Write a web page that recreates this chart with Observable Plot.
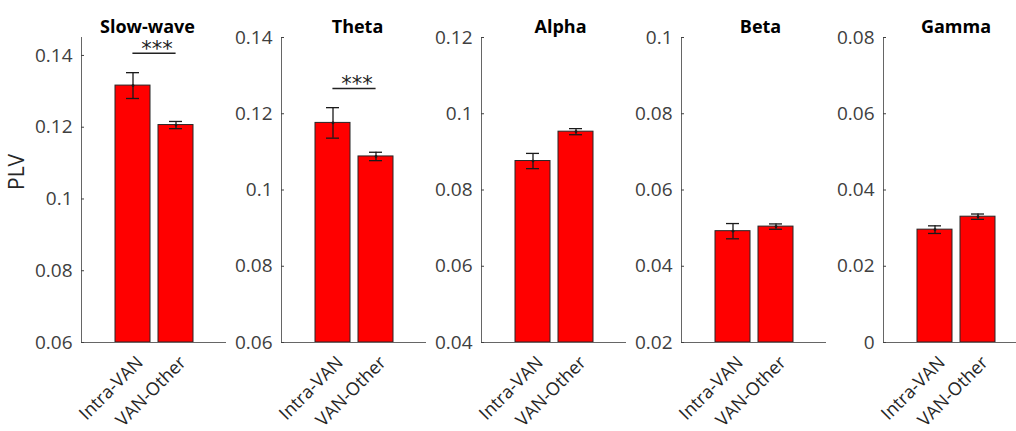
<!DOCTYPE html>
<html>
<head>
<meta charset="utf-8">
<script src="https://cdn.jsdelivr.net/npm/d3@7"></script>
<script src="https://cdn.jsdelivr.net/npm/@observablehq/plot@0.6"></script>
<style>
  html, body { margin: 0; padding: 0; background: #fff; }
  #chart { position: relative; width: 1016px; height: 431px; overflow: hidden; }
  #chart svg { position: absolute; top: 0; }
</style>
</head>
<body>
<div id="chart"></div>
<script>
// Frequency bands, one panel each
const bands = ["Slow-wave", "Theta", "Alpha", "Beta", "Gamma"];
// Connection groups (bars within a panel)
const groups = ["Intra-VAN", "VAN-Other"];

// Mean PLV and standard error per band
const intraMean = [0.1316, 0.1176, 0.0876, 0.0492, 0.0296];
const intraErr  = [0.0036, 0.0040, 0.0020, 0.0020, 0.0010];
const otherMean = [0.1206, 0.1088, 0.0953, 0.0504, 0.0330];
const otherErr  = [0.0010, 0.0011, 0.0008, 0.0007, 0.0007];

// Significance markers and the level of their bracket
const sigText  = ["***", "***", "", "", ""];
const sigLevel = [0.1406, 0.1266, null, null, null];

// Y axis limits and ticks per panel
const yMin = [0.06, 0.06, 0.04, 0.02, 0];
const yMax = [0.145, 0.14, 0.12, 0.1, 0.08];
const yTicks = [
  [0.06, 0.08, 0.1, 0.12, 0.14],
  [0.06, 0.08, 0.1, 0.12, 0.14],
  [0.04, 0.06, 0.08, 0.1, 0.12],
  [0.02, 0.04, 0.06, 0.08, 0.1],
  [0, 0.02, 0.04, 0.06, 0.08]
];
const yLabel = "PLV";

// Layout of the panels (axis x position and plot-area width)
const axisX = [81, 281, 481, 681, 883];
const areaW = [144, 144, 144, 144, 133];
const titleDx = [-6, 4, 7, 7, 6];
const ML = 81, MT = 37, MB = 89, H = 431;
const STEP = 43, PAD = 0.19;           // band step and inner padding of the bars
const HALF_BAR = STEP * (1 - PAD) / 2; // half of the bar width
const font = "'Open Sans', 'Liberation Sans', Arial, sans-serif";
const fmt = d3.format(".2~f");

const chart = document.getElementById("chart");

bands.forEach((band, i) => {
  const rows = [
    {group: groups[0], mean: intraMean[i], err: intraErr[i]},
    {group: groups[1], mean: otherMean[i], err: otherErr[i]}
  ];
  const marks = [
    Plot.barY(rows, {x: "group", y1: yMin[i], y2: "mean", fill: "#ff0000", stroke: "#262626", strokeWidth: 1}),
    Plot.ruleX(rows, {x: "group", y1: d => d.mean - d.err, y2: d => d.mean + d.err, stroke: "#1a1a1a", strokeWidth: 1.3}),
    Plot.tickY(rows, {x: "group", y: d => d.mean + d.err, insetLeft: 11, insetRight: 11, stroke: "#1a1a1a", strokeWidth: 1.3}),
    Plot.tickY(rows, {x: "group", y: d => d.mean - d.err, insetLeft: 11, insetRight: 11, stroke: "#1a1a1a", strokeWidth: 1.3}),
    Plot.dot(rows, {x: "group", y: "mean", r: 1.4, fill: "#1a1a1a", stroke: null}),
    Plot.frame({anchor: "left", stroke: "#666", strokeWidth: 1}),
    Plot.frame({anchor: "bottom", stroke: "#666", strokeWidth: 1}),
    Plot.axisY(yTicks[i], {tickSize: -3, tickPadding: 12, tickFormat: fmt, fontSize: 19, color: "#404040"}),
    Plot.axisX({tickSize: 0, tickPadding: 17, tickRotate: -45, dx: 7, fontSize: 18, color: "#262626"}),
    Plot.text([band], {frameAnchor: "top", dy: -17, dx: titleDx[i], fontSize: 18, fontWeight: "bold", fill: "#000"})
  ];
  if (sigText[i]) {
    // bracket from one bar centre to the other, with the stars above it
    marks.push(
      Plot.ruleY([sigLevel[i]], {x1: () => groups[0], x2: () => groups[1], insetLeft: HALF_BAR, insetRight: HALF_BAR, stroke: "#222", strokeWidth: 1.5}),
      Plot.text([sigText[i]], {x: () => groups[0], y: () => sigLevel[i], dx: STEP / 2 + 2.5, dy: -4, fontSize: 21, letterSpacing: 5, fontFamily: "'DejaVu Sans', sans-serif", fill: "#222"})
    );
  }
  if (i === 0) {
    marks.push(Plot.text([yLabel], {frameAnchor: "left", rotate: -90, dx: -64, fontSize: 21, fill: "#262626"}));
  }
  const svg = Plot.plot({
    width: ML + areaW[i],
    height: H,
    marginLeft: ML, marginRight: 0, marginTop: MT, marginBottom: MB,
    style: {background: "transparent", overflow: "visible", fontFamily: font},
    x: {type: "band", domain: groups, range: [ML + 30, ML + 116], paddingInner: PAD, paddingOuter: PAD / 2, label: null},
    y: {domain: [yMin[i], yMax[i]], label: null},
    marks
  });
  svg.style.left = (axisX[i] - ML) + "px";
  chart.appendChild(svg);
});
</script>
</body>
</html>
